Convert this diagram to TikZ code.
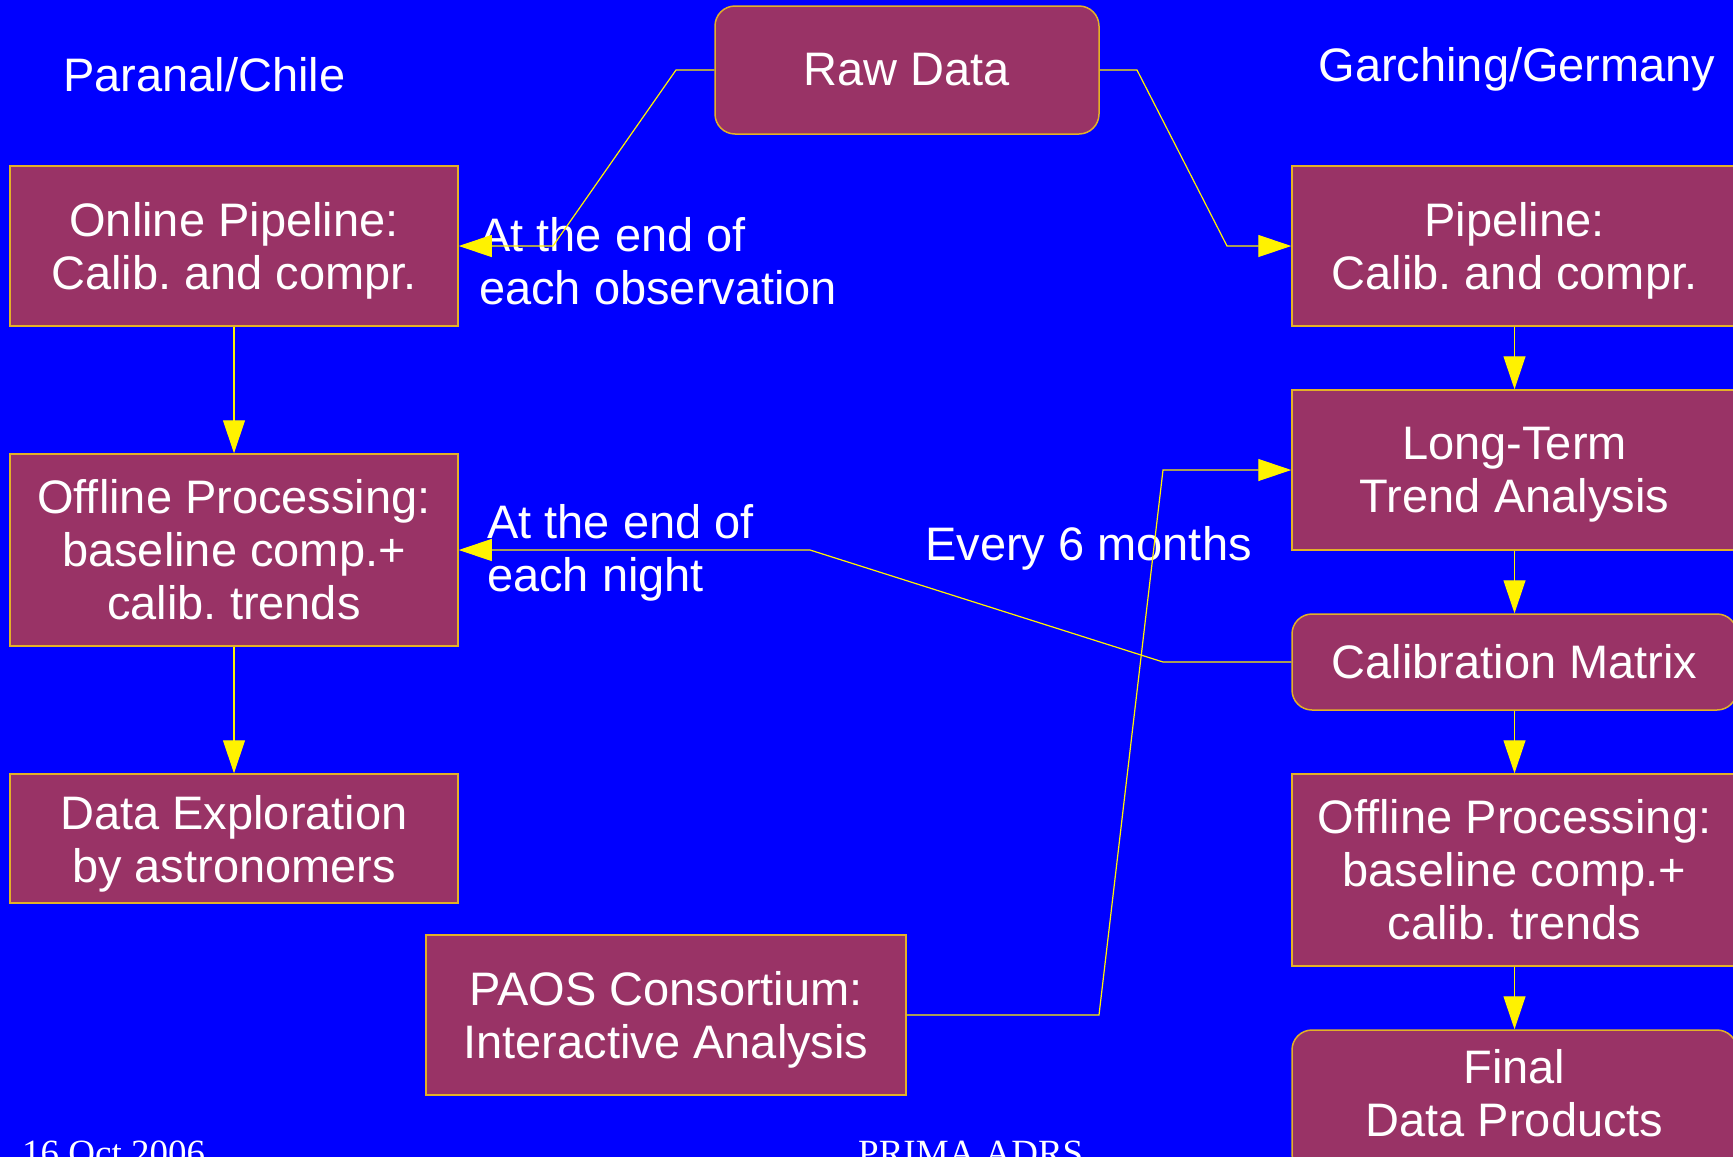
\documentclass[tikz,border=0pt]{standalone}
\usepackage{fontspec}
\setmainfont{Liberation Sans}
\newfontfamily\footfont{Liberation Serif}
\usetikzlibrary{arrows.meta}
\frenchspacing

\definecolor{slideblue}{RGB}{0,0,255}
\definecolor{boxfill}{RGB}{153,51,102}
\definecolor{boxline}{RGB}{226,176,40}

\newcommand{\nodepth}[1]{\raisebox{0pt}[\height][0pt]{#1}}

\begin{document}
\begin{tikzpicture}[x=1pt, y=-1pt,
		box/.style={draw=boxline, line width=1.5pt, fill=boxfill, text=white, align=center, inner sep=0pt, font=\fontsize{47}{53}\selectfont},
		roundbox/.style={box, rounded corners=20pt},
		conn/.style={draw=yellow, line width=1.2pt, -{Triangle[length=33pt, width=22pt]}},
		lbl/.style={text=white, align=left, inner sep=0pt, font=\fontsize{47}{53}\selectfont},
		foot/.style={text=white, inner sep=0pt, font=\footfont\fontsize{37}{40}\selectfont}]
		\useasboundingbox (0, 0) rectangle (1733, 1157);
		\fill[slideblue] (0, 0) rectangle (1733, 1157);
		\clip (0, 0) rectangle (1733, 1157);
		
		\node[lbl, anchor=base] (paranal) at (204.5, 91) {Paranal/Chile};
		\node[lbl, anchor=base] (garching) at (1517, 81) {Garching/Germany};
		
		\node[roundbox, minimum width=384pt, minimum height=128pt] (raw) at (907, 70) {Raw Data};
		
		\node[box, minimum width=448pt, minimum height=160pt] (online) at (234, 246) {Online Pipeline:\\\nodepth{Calib. and compr.}};
		\node[box, minimum width=448pt, minimum height=192pt] (offlinel) at (234, 550) {Offline Processing:\\baseline comp.+\\calib. trends};
		\node[box, minimum width=448pt, minimum height=129pt] (explore) at (234, 838.5) {Data Exploration\\\nodepth{by astronomers}};
		\node[box, minimum width=480pt, minimum height=160pt] (paos) at (666, 1015) {PAOS Consortium:\\\nodepth{Interactive Analysis}};
		
		\node[box, minimum width=445pt, minimum height=160pt] (pipe) at (1514.5, 246) {Pipeline:\\\nodepth{Calib. and compr.}};
		\node[box, minimum width=445pt, minimum height=160pt] (trend) at (1514.5, 470) {Long-Term\\\nodepth{Trend Analysis}};
		\node[roundbox, minimum width=445pt, minimum height=96pt] (calib) at (1514.5, 662) {Calibration Matrix};
		\node[box, minimum width=445pt, minimum height=192pt] (offliner) at (1514.5, 870) {Offline Processing:\\baseline comp.+\\calib. trends};
		\node[roundbox, minimum width=445pt, minimum height=144pt] (final) at (1514.5, 1102) {Final\\Data Products\rule[-18pt]{0pt}{18pt}};
		
		\node[lbl, anchor=north west] (obs) at (479, 217) {At the end of\\each observation};
		\node[lbl, anchor=north west] (night) at (487, 504) {At the end of\\each night};
		\node[lbl, anchor=north west] (months) at (925, 526) {Every 6 months};
		
		\draw[conn] (raw.west) -- (676, 70) -- (553, 246) -- (online.east);
		\draw[conn] (raw.east) -- (1137, 70) -- (1227, 246) -- (pipe.west);
		\draw[conn] (online) -- (offlinel);
		\draw[conn] (offlinel) -- (explore);
		\draw[conn] (calib.west) -- (1163, 662) -- (810, 550) -- (offlinel.east);
		\draw[conn] (paos.east) -- (1099, 1015) -- (1163, 470) -- (trend.west);
		\draw[conn] (pipe) -- (trend);
		\draw[conn] (trend) -- (calib);
		\draw[conn] (calib) -- (offliner);
		\draw[conn] (offliner) -- (final);
		
		\node[foot, anchor=base west] (date) at (22, 1165) {16 Oct 2006};
		\node[foot, anchor=base west] (title) at (858, 1165) {PRIMA ADRS};
	\end{tikzpicture}
\end{document}
